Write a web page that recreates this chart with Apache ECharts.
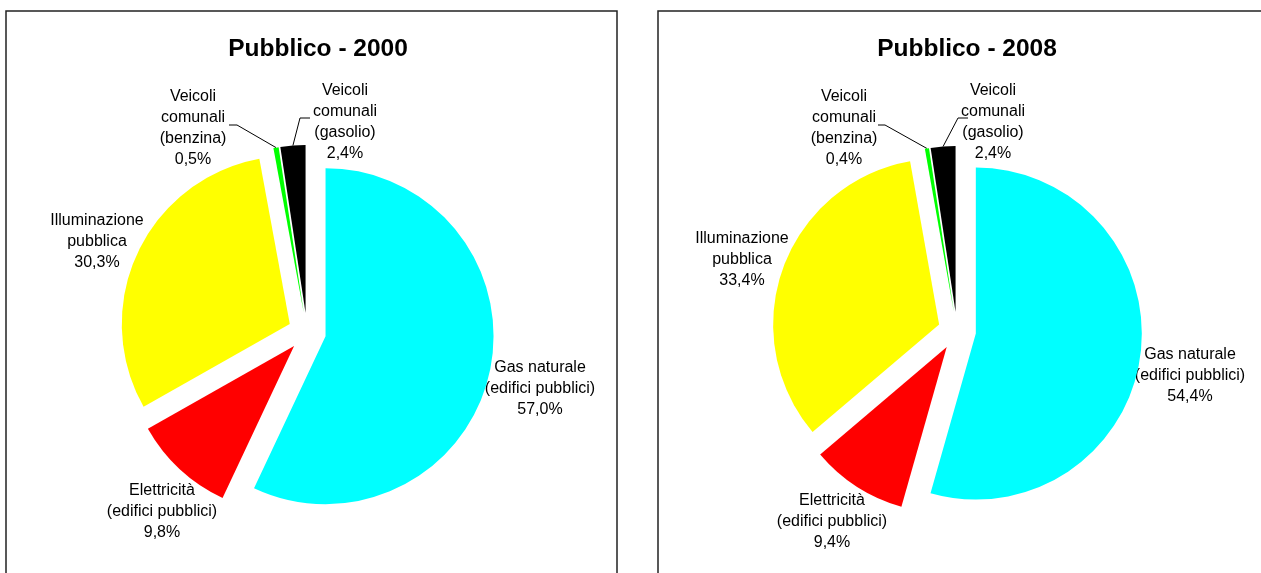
<!DOCTYPE html>
<html>
<head>
<meta charset="utf-8">
<script src="https://cdn.jsdelivr.net/npm/echarts@6/dist/echarts.min.js"></script>
<style>
    html, body { margin: 0; padding: 0; background: #ffffff; }
    #chart { width: 1261px; height: 573px; }
</style>
</head>
<body>
<div id="chart"></div>
<script>
    // categories, same order as the spreadsheet (clockwise from 12 o'clock)
    let categories = [
        'Gas naturale\n(edifici pubblici)',
        'Elettricità\n(edifici pubblici)',
        'Illuminazione\npubblica',
        'Veicoli\ncomunali\n(benzina)',
        'Veicoli\ncomunali\n(gasolio)'
    ]
    let colors = ['#00ffff', '#ff0000', '#ffff00', '#00ff00', '#000000']
    let titles = ['Pubblico - 2000', 'Pubblico - 2008']
    let values2000 = [57.0, 9.8, 30.3, 0.5, 2.4]
    let values2008 = [54.4, 9.4, 33.4, 0.4, 2.4]

    // layout: where Excel put each label (centre of the text block)
    let labelPos2000 = [[540, 389], [162, 512], [97, 242], [193, 128], [345, 122]]
    let labelPos2008 = [[1190, 376], [832, 522], [742, 260], [844, 128], [993, 122]]
    // leader line ends on the label side, for the two small slices
    let leaderEnds2000 = {3: [[229, 125], [237, 125]], 4: [[310, 118], [300, 118]]}
    let leaderEnds2008 = {3: [[878, 125], [885, 125]], 4: [[968, 118], [958, 118]]}

    let pies = [
        {values: values2000, center: [307, 332], radius: 168, offset: 19, labelPos: labelPos2000, leaders: leaderEnds2000, title: titles[0], titleX: 313},
        {values: values2008, center: [957, 331], radius: 166, offset: 19, labelPos: labelPos2008, leaders: leaderEnds2008, title: titles[1], titleX: 962}
    ]

    let font = 'Liberation Sans, Arial, sans-serif'

    function pctText(v) {
        return v.toFixed(1).replace('.', ',') + '%'
    }

    // outer edge point of an exploded slice, at its middle angle
    function sliceTip(pie, idx) {
        let total = pie.values.reduce(function (a, b) { return a + b }, 0)
        let before = 0
        for (let i = 0; i < idx; i++) before += pie.values[i]
        let mid = (before + pie.values[idx] / 2) / total * Math.PI * 2
        let s = Math.sin(mid), c = Math.cos(mid)
        let d = pie.offset + pie.radius
        return [pie.center[0] + d * s, pie.center[1] - d * c]
    }

    function makePie(pie) {
        return {
            type: 'pie',
            center: pie.center,
            radius: pie.radius,
            startAngle: 90,
            clockwise: true,
            selectedMode: 'multiple',
            selectedOffset: pie.offset,
            silent: true,
            emphasis: {disabled: true},
            label: {show: false},
            labelLine: {show: false},
            data: pie.values.map(function (v, i) {
                return {name: categories[i], value: v, selected: true, itemStyle: {color: colors[i]}}
            })
        }
    }

    let graphics = [
        {type: 'rect', shape: {x: 6, y: 11, width: 611, height: 620}, style: {fill: null, stroke: '#222', lineWidth: 1.5}, silent: true},
        {type: 'rect', shape: {x: 658, y: 11, width: 620, height: 620}, style: {fill: null, stroke: '#222', lineWidth: 1.5}, silent: true}
    ]
    pies.forEach(function (pie) {
        pie.values.forEach(function (v, i) {
            graphics.push({
                type: 'text',
                x: pie.labelPos[i][0],
                y: pie.labelPos[i][1],
                silent: true,
                style: {
                    text: categories[i] + '\n' + pctText(v),
                    fill: '#000',
                    fontFamily: font,
                    fontSize: 16,
                    lineHeight: 21,
                    align: 'center',
                    verticalAlign: 'middle'
                }
            })
        })
        Object.keys(pie.leaders).forEach(function (k) {
            let pts = pie.leaders[k].concat([sliceTip(pie, +k)])
            graphics.push({
                type: 'polyline',
                silent: true,
                shape: {points: pts},
                style: {stroke: '#000', lineWidth: 1, fill: null}
            })
        })
    })

    let myChart = echarts.init(document.getElementById('chart'))
    myChart.setOption({
        animation: false,
        title: pies.map(function (pie) {
            return {
                text: pie.title, left: pie.titleX, top: 44, textAlign: 'center', textVerticalAlign: 'middle',
                textStyle: {fontFamily: font, fontSize: 24.5, fontWeight: 'bold', color: '#000'}
            }
        }),
        graphic: graphics,
        series: pies.map(makePie)
    })
</script>
</body>
</html>
